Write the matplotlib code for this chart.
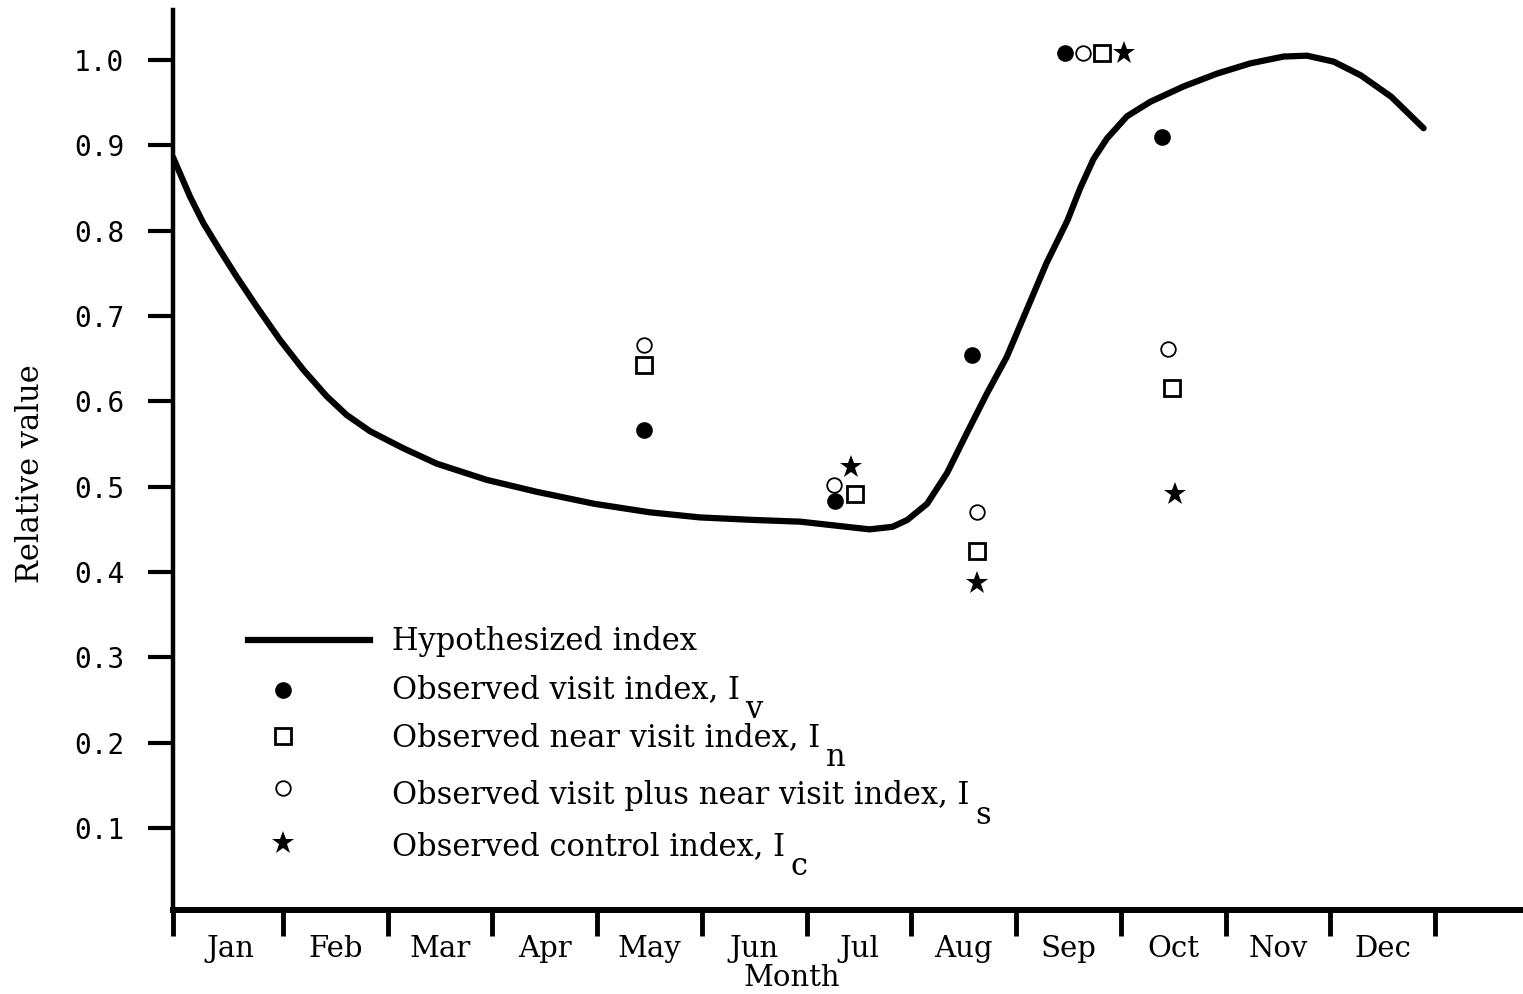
import matplotlib
matplotlib.use("Agg")
import matplotlib.pyplot as plt
from matplotlib.ticker import FixedLocator, FixedFormatter, NullFormatter

# ---- data (x in months from 1 Jan, y relative value) ----
months = ["Jan", "Feb", "Mar", "Apr", "May", "Jun",
          "Jul", "Aug", "Sep", "Oct", "Nov", "Dec"]

hyp_x = [-0.05, 0.112, 0.239, 0.398, 0.558, 0.749, 0.971, 1.194, 1.417, 1.608,
         1.831, 2.149, 2.468, 2.945, 3.423, 3.97, 4.5, 4.98, 5.5,
         5.94, 6.38, 6.6, 6.82, 6.96, 7.15, 7.34, 7.53, 7.72, 7.91, 8.10,
         8.29, 8.49, 8.612, 8.739, 8.867, 9.058, 9.281, 9.599, 9.918, 10.236,
         10.554, 10.777, 11.032, 11.29, 11.58, 11.89]
hyp_y = [0.886, 0.840, 0.809, 0.777, 0.746, 0.711, 0.672, 0.637, 0.606, 0.584,
         0.565, 0.545, 0.527, 0.508, 0.494, 0.480, 0.470, 0.464, 0.461,
         0.459, 0.453, 0.450, 0.453, 0.461, 0.480, 0.516, 0.563, 0.609, 0.652, 0.707,
         0.762, 0.812, 0.850, 0.884, 0.908, 0.934, 0.951, 0.969, 0.984, 0.996,
         1.004, 1.005, 0.998, 0.982, 0.957, 0.920]

visit_x = [4.45, 6.27, 7.58, 8.47, 9.39]
visit_y = [0.567, 0.483, 0.654, 1.008, 0.910]

near_x = [4.45, 6.46, 7.63, 8.82, 9.49]
near_y = [0.643, 0.491, 0.425, 1.008, 0.616]

sum_x = [4.45, 6.26, 7.63, 8.64, 9.45]
sum_y = [0.666, 0.502, 0.470, 1.008, 0.661]

ctrl_x = [6.42, 7.63, 9.03, 9.52]
ctrl_y = [0.523, 0.387, 1.008, 0.491]

y_ticks = [0.1, 0.2, 0.3, 0.4, 0.5, 0.6, 0.7, 0.8, 0.9, 1.0]

plt.rcParams['font.family'] = ['DejaVu Serif']

fig = plt.figure(figsize=(15.23, 9.94), dpi=100)
ax = fig.add_axes([0.1136, 0.0845, 0.8844, 0.9055])

# marker styles
filled = dict(ls='none', marker='o', ms=12, mfc='black', mec='black', mew=0)
square = dict(ls='none', marker='s', ms=12, mfc='white', mec='black', mew=2.0)
opencirc = dict(ls='none', marker='o', ms=10.5, mfc='white', mec='black', mew=1.3)
star = dict(ls='none', marker='*', ms=17, mfc='black', mec='black', mew=0)

ax.plot(hyp_x, hyp_y, color='black', lw=4.5, solid_capstyle='round',
        solid_joinstyle='round', zorder=2)
ax.plot(visit_x, visit_y, zorder=3, **filled)
ax.plot(near_x, near_y, zorder=3, **square)
ax.plot(sum_x, sum_y, zorder=4, **opencirc)
ax.plot(ctrl_x, ctrl_y, zorder=3, **star)

ax.set_xlim(-0.05, 12.81)
ax.set_ylim(0.004, 1.0586)

for s in ['top', 'right']:
    ax.spines[s].set_visible(False)
ax.spines['left'].set_linewidth(3.2)
ax.spines['bottom'].set_linewidth(4.3)

# y axis
ax.yaxis.set_major_locator(FixedLocator(y_ticks))
ax.yaxis.set_major_formatter(FixedFormatter(["%.1f" % v for v in y_ticks]))
ax.tick_params(axis='y', direction='out', length=18, width=3, pad=17,
               labelsize=20)
for lab in ax.get_yticklabels():
    lab.set_fontfamily('DejaVu Sans Mono')

# x axis: ticks at month boundaries, labels centred in each month
ax.xaxis.set_major_locator(FixedLocator([-0.05] + list(range(1, 13))))
ax.xaxis.set_major_formatter(NullFormatter())
ax.xaxis.set_minor_locator(FixedLocator([i + 0.5 for i in range(12)]))
ax.xaxis.set_minor_formatter(FixedFormatter(months))
ax.tick_params(axis='x', which='major', direction='out', length=19, width=3.5)
ax.tick_params(axis='x', which='minor', length=0, pad=18, labelsize=21)

ax.set_xlabel("Month", fontsize=21, va='center')
ax.xaxis.set_label_coords(0.4595, -0.0756)
ax.set_ylabel("Relative value", fontsize=22, va='center')
ax.yaxis.set_label_coords(-0.106, 0.485)

# hand-made legend, placed in axes fraction
tr = ax.transAxes
ax.plot([0.0557, 0.1463], [0.300, 0.300], color='black', lw=4.5, transform=tr,
        clip_on=False)
ax.plot([0.0817], [0.2444], transform=tr, **filled)
ax.plot([0.0817], [0.1933], transform=tr, **square)
ax.plot([0.0817], [0.1356], transform=tr, **opencirc)
ax.plot([0.0817], [0.0744], transform=tr, **star)

legend_rows = [
    ("Hypothesized index", None, 0.2889),
    ("Observed visit index, I", "v", 0.2356),
    ("Observed near visit index, I", "n", 0.1822),
    ("Observed visit plus near visit index, I", "s", 0.1178),
    ("Observed control index, I", "c", 0.0611),
]
for text, sub, yb in legend_rows:
    t = ax.text(0.1626, yb, text, transform=tr, fontsize=22, va='baseline')
    if sub:
        ax.annotate(sub, xy=(1, 0), xycoords=t, xytext=(4, 8),
                    textcoords='offset points', fontsize=22, va='top')

fig.savefig("out.png", dpi=100)
